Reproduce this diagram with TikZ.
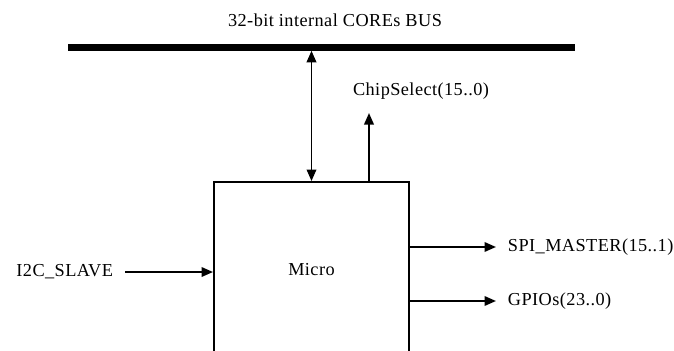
\documentclass[tikz,border=0pt]{standalone}
\usepackage{fontspec}
\setmainfont{Liberation Serif}[LetterSpace=2.4]
\usetikzlibrary{arrows.meta}
\tikzset{
  lbl/.style={inner sep=0pt, font=\fontsize{10.4}{12}\selectfont},
  blockbox/.style={draw, line width=1.1pt, minimum width=3.9cm, minimum height=3.52cm, font=\fontsize{10.4}{12}\selectfont},
}
\begin{document}
\begin{tikzpicture}[>={Triangle[length=0.23cm,width=0.19cm]}, line width=1.1pt]
\useasboundingbox (0,0) rectangle (13.48,7);
% bus
\node[lbl] (buslbl) at (6.7,6.6) {32-bit internal COREs BUS};
\coordinate (busl) at (1.36,6.05);
\coordinate (busr) at (11.5,6.05);
\draw[line width=3.7pt] (busl) -- (busr);
% block
\node[blockbox] (micro) at (6.23,1.6) {Micro};
\coordinate (bustap) at (6.23,5.985);
\draw[<->] (bustap) -- (micro.north);
% chip select
\node[lbl] (cs) at (8.42,5.18) {ChipSelect(15..0)};
\coordinate (csend) at (7.38,4.74);
\draw[->] (micro.north -| csend) -- (csend);
% inputs
\node[lbl, anchor=east] (i2c) at (2.28,1.56) {I2C\_SLAVE};
\coordinate (i2cbeg) at (2.5,1.56);
\draw[->] (i2cbeg) -- (micro.west |- i2cbeg);
% outputs
\node[lbl, anchor=west] (spi) at (10.14,2.06) {SPI\_MASTER(15..1)};
\node[lbl, anchor=west] (gpio) at (10.14,0.98) {GPIOs(23..0)};
\coordinate (spiend) at (9.92,2.06);
\coordinate (gpioend) at (9.92,0.98);
\draw[->] (micro.east |- spiend) -- (spiend);
\draw[->] (micro.east |- gpioend) -- (gpioend);
\end{tikzpicture}
\end{document}
